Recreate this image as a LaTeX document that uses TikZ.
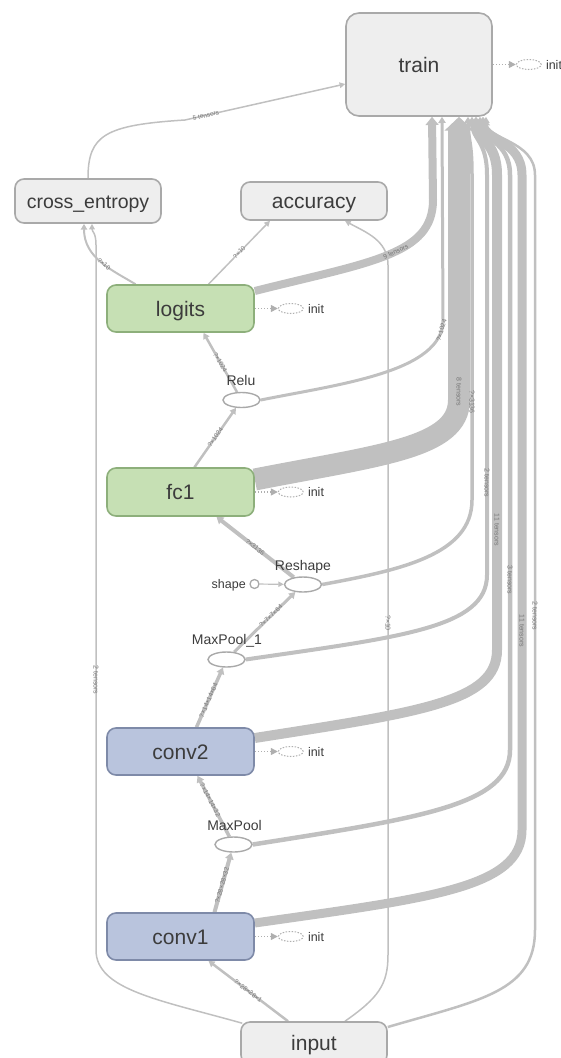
\documentclass[tikz,border=0pt]{standalone}
\usepackage{fontspec}
\setmainfont{Liberation Sans}
\usetikzlibrary{arrows.meta,shapes.geometric}
\pgfdeclarelayer{edgelayer}
\pgfsetlayers{edgelayer,main}
\definecolor{edgecol}{HTML}{C0C0C0}
\definecolor{boxgray}{HTML}{EEEEEE}
\definecolor{boxgrayline}{HTML}{A9A9A9}
\definecolor{boxgreen}{HTML}{C6E0B4}
\definecolor{boxgreenline}{HTML}{8DAF7B}
\definecolor{boxblue}{HTML}{B9C4DD}
\definecolor{boxblueline}{HTML}{7E8AA8}
\definecolor{txt}{HTML}{3C3C3C}
\definecolor{labtxt}{HTML}{777777}
\definecolor{initcol}{HTML}{AFAFAF}
\begin{document}
\begin{tikzpicture}[x=1pt,y=-1pt,
  nodebox/.style={rectangle, rounded corners=9pt, line width=1.6pt, inner sep=0pt, text=txt,
    font=\fontsize{21}{25}\selectfont, text height=15pt, text depth=0pt},
  graybox/.style={nodebox, draw=boxgrayline, fill=boxgray},
  greenbox/.style={nodebox, draw=boxgreenline, fill=boxgreen},
  bluebox/.style={nodebox, draw=boxblueline, fill=boxblue},
  opnode/.style={ellipse, draw=boxgrayline, fill=white, line width=1.4pt, minimum width=37pt, minimum height=15pt, inner sep=0pt},
  oplabel/.style={text=txt, font=\fontsize{14}{16}\selectfont, inner sep=0pt, text height=10pt, text depth=0pt},
  edgeline/.style={draw=edgecol, -{Triangle[length=5pt 0.4, width=4pt 1.1]}},
  elabel/.style={text=labtxt, font=\fontsize{6.5}{7}\selectfont, inner sep=0pt, sloped},
  vlabel/.style={text=labtxt, font=\fontsize{7}{8}\selectfont, inner sep=0pt, rotate=-90},
  initdot/.style={draw=initcol, dash pattern=on 1.5pt off 1.5pt, line width=1.4pt, -{Triangle[length=7pt,width=7pt]}},
  initell/.style={ellipse, draw=initcol, dash pattern=on 1.5pt off 1.5pt, line width=1pt, fill=white, minimum width=25pt, minimum height=10pt, inner sep=0pt},
  inittext/.style={text=txt, font=\fontsize{12.5}{14}\selectfont, inner sep=0pt, anchor=west, text height=9pt, text depth=0pt}
]
\useasboundingbox (0,0) rectangle (560,1058);

% ---------- nodes ----------
\node[graybox, minimum width=146pt, minimum height=103pt, rounded corners=13pt] (train) at (419,64.5) {train};
\node[graybox, minimum width=146pt, minimum height=44pt, font=\fontsize{19.5}{23}\selectfont] (xent) at (88,201) {cross\_entropy};
\node[graybox, minimum width=146pt, minimum height=38pt] (acc) at (314,201) {accuracy};
\node[greenbox, minimum width=147pt, minimum height=47pt] (logits) at (180.5,308.5) {logits};
\node[greenbox, minimum width=147pt, minimum height=48pt] (fc1) at (180.5,492) {fc1};
\node[bluebox, minimum width=147pt, minimum height=47pt] (conv2) at (180.5,751.5) {conv2};
\node[bluebox, minimum width=147pt, minimum height=47pt] (conv1) at (180.5,936.5) {conv1};
\node[graybox, minimum width=146pt, minimum height=42pt] (input) at (314,1043) {input};

\node[opnode] (relu) at (241.5,400) {};
\node[oplabel] (relutxt) at (241,380.5) {Relu};
\node[opnode] (reshape) at (303,584.5) {};
\node[oplabel] (reshapetxt) at (303,565) {Reshape};
\node[circle, draw=boxgrayline, fill=white, line width=1.3pt, minimum size=9pt, inner sep=0pt] (shape) at (254.5,584) {};
\node[oplabel, anchor=east, font=\fontsize{12.5}{14}\selectfont, text height=9pt] (shapetxt) at (246,584) {shape};
\node[opnode] (mp1) at (226.5,659.5) {};
\node[oplabel] (mp1txt) at (227,639.5) {MaxPool\_1};
\node[opnode] (mp) at (233.5,844.5) {};
\node[oplabel] (mptxt) at (234.5,825.5) {MaxPool};

% init markers
\foreach \b in {train,logits,fc1,conv2,conv1}{
  \node[initell] (\b-i) at ([xshift=36pt]\b.east) {};
  \node[inittext] (\b-t) at ([xshift=53pt]\b.east) {init};
}

% ---------- edges ----------
\begin{pgfonlayer}{edgelayer}
\foreach \b in {train,logits,fc1,conv2,conv1}{
  \draw[initdot] (\b.east) -- (\b-i);
}
% main chain
\draw[edgeline, line width=2.5pt] ([xshift=-26pt]input.north) -- node[elabel]{?×28×28×1} ([xshift=28pt]conv1.south);
\draw[edgeline, line width=4pt] ([xshift=34pt]conv1.north) -- node[elabel, pos=0.45]{?×28×28×32} (mp);
\draw[edgeline, line width=3.5pt] (mp) -- node[elabel, pos=0.6]{?×14×14×32} ([xshift=17pt]conv2.south);
\draw[edgeline, line width=3.5pt] ([xshift=16pt]conv2.north) -- node[elabel, pos=0.45]{?×14×14×64} (mp1);
\draw[edgeline, line width=3pt] (mp1) -- node[elabel, pos=0.6]{?×7×7×64} (reshape);
\draw[edgeline, line width=1.2pt] (shape) -- (reshape);
\draw[edgeline, line width=4pt] (reshape) -- node[elabel]{?×3136} ([xshift=36pt]fc1.south);
\draw[edgeline, line width=2.5pt] ([xshift=14pt]fc1.north) -- node[elabel]{?×1024} (relu);
\draw[edgeline, line width=2.5pt] (relu) -- node[elabel]{?×1024} ([xshift=23pt]logits.south);
\draw[edgeline, line width=1.5pt] ([xshift=28pt]logits.north) -- node[elabel]{?×10} ([xshift=-44pt]acc.south);
\draw[edgeline, line width=2pt] ([xshift=-45pt]logits.north) .. controls (112,270) and (84,258) .. node[elabel, pos=0.45]{?×10} ([xshift=-4pt]xent.south);

% input -> cross_entropy
\draw[edgeline, line width=1.5pt] ([xshift=2pt,yshift=-2pt]input.north west) .. controls (160,1000) and (96,990) .. (96,950) -- (96,680) node[vlabel]{2 tensors} -- (96,245) .. controls (96,232) and (92,232) .. ([xshift=4pt]xent.south);
% input -> accuracy
\draw[edgeline, line width=1.5pt] ([xshift=31pt]input.north) .. controls (378,998) and (388,985) .. (388,955) -- (388,623) node[vlabel]{?×10} -- (388,265) .. controls (388,240) and (365,232) .. ([xshift=31pt]acc.south);
% cross_entropy -> train
\draw[edgeline, line width=1.5pt] (xent.north) .. controls (88,135) and (105,125) .. (185,120) -- node[elabel, pos=0.13]{5 tensors} ([yshift=-19.5pt]train.west);

% edges into train from below
\draw[edgeline, line width=8pt] ([yshift=17.5pt]logits.east) .. controls (370,262) and (433,255) .. node[elabel,pos=0.55]{9 tensors} (433,200) -- ([xshift=13pt]train.south);
\draw[edgeline, line width=3pt] (relu.east) .. controls (340,384) and (443,372) .. node[elabel, pos=0.93]{?×1024} (443,320) -- ([xshift=23pt]train.south);
\draw[edgeline, line width=22pt] ([yshift=12.5pt]fc1.east) .. controls (380,455) and (459,448) .. (459,400) -- (459,392) node[vlabel]{8 tensors} -- ([xshift=40pt]train.south);
\draw[edgeline, line width=3.5pt] (reshape.east) .. controls (400,570) and (472,555) .. (472,500) -- (472,402) node[vlabel]{?×3136} -- (472,175) .. controls (472,140) and (468,140) .. ([xshift=49pt]train.south);
\draw[edgeline, line width=4pt] (mp1.east) .. controls (400,637) and (487,628) .. (487,575) -- (487,483) node[vlabel]{2 tensors} -- (487,175) .. controls (487,140) and (472,140) .. ([xshift=53pt]train.south);
\draw[edgeline, line width=10pt] ([yshift=13.5pt]conv2.east) .. controls (420,712) and (497,702) .. (497,650) -- (497,530) node[vlabel]{11 tensors} -- (497,175) .. controls (497,140) and (476,140) .. ([xshift=57pt]train.south);
\draw[edgeline, line width=4.5pt] (mp.east) .. controls (420,818) and (510,805) .. (510,750) -- (510,580) node[vlabel]{3 tensors} -- (510,175) .. controls (510,140) and (480,140) .. ([xshift=61pt]train.south);
\draw[edgeline, line width=9pt] ([yshift=13.5pt]conv1.east) .. controls (430,898) and (522,888) .. (522,830) -- (522,631) node[vlabel]{11 tensors} -- (522,175) .. controls (522,140) and (483,140) .. ([xshift=64pt]train.south);
\draw[edgeline, line width=2.5pt] ([yshift=16pt]input.east) .. controls (480,1000) and (535,992) .. (535,930) -- (535,616) node[vlabel]{2 tensors} -- (535,175) .. controls (535,140) and (486,140) .. ([xshift=67pt]train.south);
\end{pgfonlayer}
\end{tikzpicture}
\end{document}
